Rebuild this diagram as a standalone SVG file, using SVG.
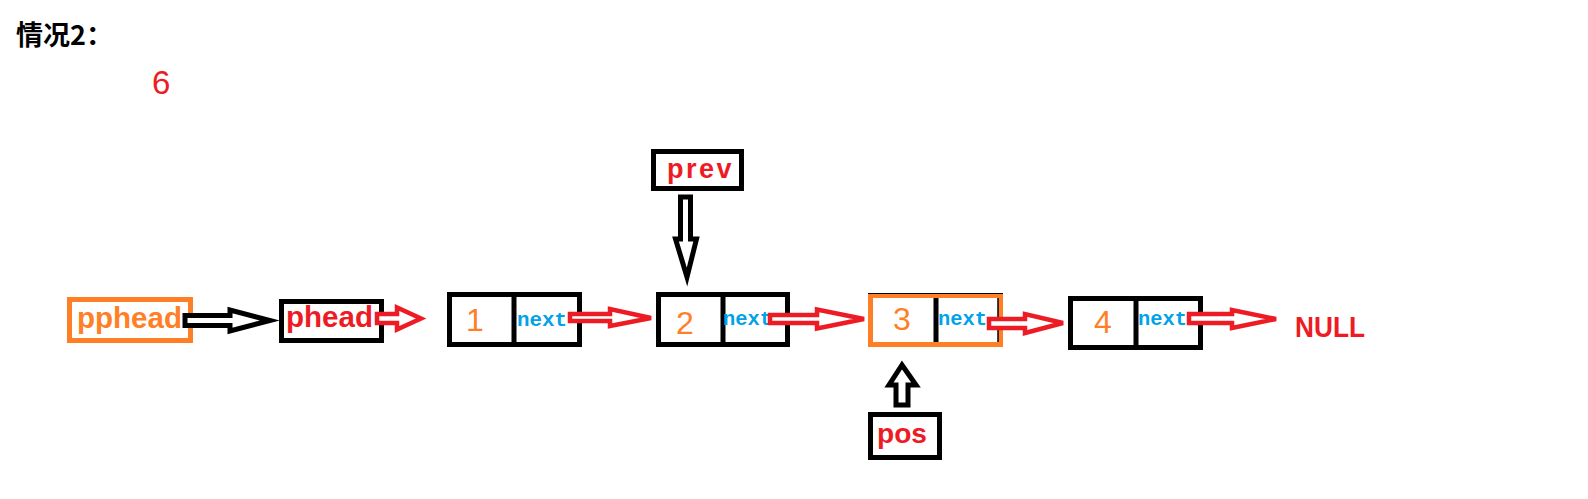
<svg xmlns="http://www.w3.org/2000/svg" width="1588" height="499" viewBox="0 0 1588 499">
<style>
.box{fill:#fff;stroke:#000;stroke-width:5}
.obox{fill:#fff;stroke:#ff7f27;stroke-width:5}
.div{stroke:#000;stroke-width:5}
.ra{fill:#fff;stroke:#ed1c24;stroke-width:4.5;stroke-linejoin:miter}
.ba{fill:#fff;stroke:#000;stroke-width:5;stroke-linejoin:miter}
.num{font-family:"Liberation Sans",Arial,sans-serif;font-size:32px;fill:#ff7f27}
.nx{font-family:"Liberation Mono",monospace;font-weight:bold;font-size:21px;fill:#00a2e8}
.lbl{font-family:"Liberation Sans",Arial,sans-serif;font-weight:bold;font-size:29px;fill:#ed1c24}
</style>
<rect width="1588" height="499" fill="#fff"/>
<text x="16" y="45" font-family="'Noto Sans CJK SC',sans-serif" font-weight="bold" font-size="27" fill="#000">情况2：</text>
<text x="152" y="94" font-family="'Liberation Sans',Arial,sans-serif" font-size="33" fill="#ed1c24">6</text>

<g id="pphead">
<rect class="obox" x="69.5" y="299.5" width="121" height="41"/>
<text x="77" y="328" class="lbl" style="fill:#ff7f27" textLength="105" lengthAdjust="spacingAndGlyphs">pphead</text>
</g>
<g id="phead">
<rect class="box" x="281.5" y="301.5" width="100" height="39"/>
<text x="286" y="327" class="lbl" textLength="87" lengthAdjust="spacingAndGlyphs">phead</text>
</g>
<g id="node1">
<rect class="box" x="449.5" y="294.5" width="130" height="50"/>
<line class="div" x1="514" y1="294.5" x2="514" y2="344.5"/>
<text x="466" y="331" class="num">1</text>
<text x="517" y="326" class="nx" textLength="50" lengthAdjust="spacingAndGlyphs">next</text>
</g>
<g id="node2">
<rect class="box" x="658.5" y="294.5" width="129" height="50"/>
<line class="div" x1="723" y1="294.5" x2="723" y2="344.5"/>
<text x="676" y="334" class="num">2</text>
<text x="723" y="325" class="nx" textLength="49" lengthAdjust="spacingAndGlyphs">next</text>
</g>
<g id="prev">
<rect class="box" x="653.5" y="151.5" width="88" height="37"/>
<text x="667" y="178" class="lbl" font-size="27" style="font-size:27px" letter-spacing="2.5">prev</text>
</g>
<g id="node3">
<rect class="obox" x="870.5" y="295.5" width="130" height="49"/>
<line x1="868" y1="293.5" x2="1003" y2="293.5" stroke="#000" stroke-width="1.2"/>
<line x1="998" y1="298" x2="998" y2="342" stroke="#000" stroke-width="1.5"/>
<line class="div" x1="936" y1="298" x2="936" y2="342"/>
<text x="893" y="330" class="num">3</text>
<text x="938" y="325" class="nx" textLength="49" lengthAdjust="spacingAndGlyphs">next</text>
</g>
<g id="pos">
<rect class="box" x="870.5" y="414.5" width="69" height="43"/>
<text x="877" y="443" class="lbl" style="font-size:28px" textLength="50" lengthAdjust="spacingAndGlyphs">pos</text>
</g>
<g id="node4">
<rect class="box" x="1070.5" y="298.5" width="130" height="49"/>
<line class="div" x1="1136" y1="298.5" x2="1136" y2="347.5"/>
<text x="1094" y="333" class="num">4</text>
<text x="1138" y="325" class="nx" textLength="49" lengthAdjust="spacingAndGlyphs">next</text>
</g>
<g id="null">
<text x="1295" y="337" font-family="'Liberation Sans',Arial,sans-serif" font-weight="bold" font-size="30" fill="#ed1c24" textLength="70" lengthAdjust="spacingAndGlyphs">NULL</text>
</g>

<g id="connectors">
<path class="ba" d="M185,315.5 L230,315.5 L230,310 L270,320.5 L230,331 L230,325.5 L185,325.5 Z"/>
<path class="ra" d="M377,314 L397,314 L397,307.5 L421,318.5 L397,329.5 L397,323 L377,323 Z"/>
<path class="ra" d="M570,314 L610,314 L610,309 L651,318 L610,326 L610,321 L570,321 Z"/>
<path class="ra" d="M770,315 L817,315 L817,309.5 L864,319 L817,328.5 L817,323 L770,323 Z"/>
<path class="ra" d="M989,319 L1025,319 L1025,314 L1063,323 L1025,333 L1025,328 L989,328 Z"/>
<path class="ra" d="M1189,314 L1232,314 L1232,310 L1276,319 L1232,328 L1232,323 L1189,323 Z"/>
<path class="ba" d="M680.5,197 L690.5,197 L690.5,239 L696.5,239 L687,277 L675.5,239 L680.5,239 Z"/>
<path class="ba" d="M896,405 L908,405 L908,385 L916,385 L902,365 L889,385 L896,385 Z"/>
</g>
</svg>
